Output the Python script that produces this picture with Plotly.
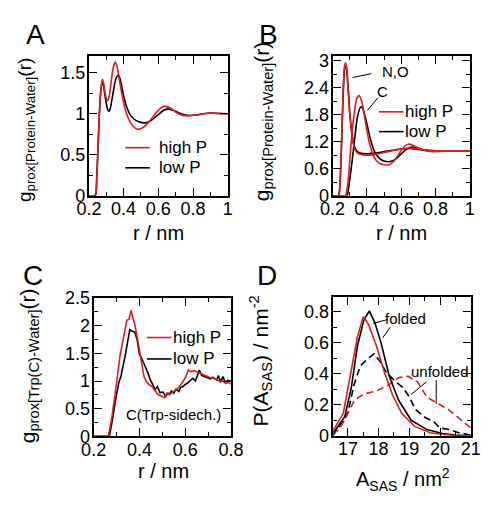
import plotly.graph_objects as go

# ---------------- data ----------------
# Panel A: proximal RDF protein-water
a_r_high = [0.2, 0.23, 0.24, 0.245, 0.25, 0.255, 0.26, 0.265, 0.27, 0.278, 0.285, 0.29, 0.30, 0.31, 0.32, 0.335, 0.345,
            0.353, 0.362, 0.37, 0.38, 0.39, 0.41, 0.43, 0.45, 0.48, 0.51, 0.55, 0.59, 0.62, 0.64, 0.67, 0.70, 0.74,
            0.78, 0.82, 0.86, 0.90, 0.95, 1.0]
a_g_high = [0, 0, 0.02, 0.2, 0.45, 0.72, 0.98, 1.18, 1.32, 1.42, 1.37, 1.30, 1.19, 1.16, 1.25, 1.50, 1.60,
            1.63, 1.58, 1.48, 1.36, 1.24, 1.05, 0.93, 0.86, 0.81, 0.83, 0.91, 1.02, 1.08, 1.09, 1.07, 1.02, 0.98,
            0.975, 0.985, 1.0, 1.01, 1.0, 1.0]
a_r_low = [0.2, 0.23, 0.24, 0.245, 0.25, 0.255, 0.26, 0.265, 0.27, 0.278, 0.285, 0.29, 0.30, 0.308, 0.316, 0.325, 0.335,
           0.35, 0.36, 0.369, 0.378, 0.385, 0.40, 0.42, 0.44, 0.47, 0.50, 0.53, 0.56, 0.60, 0.63, 0.655, 0.69, 0.72,
           0.77, 0.82, 0.86, 0.90, 1.0]
a_g_low = [0, 0, 0.02, 0.2, 0.45, 0.72, 0.98, 1.18, 1.31, 1.40, 1.34, 1.26, 1.13, 1.05, 1.03, 1.08, 1.2,
           1.38, 1.45, 1.47, 1.44, 1.38, 1.22, 1.07, 0.98, 0.92, 0.895, 0.89, 0.92, 0.99, 1.04, 1.06, 1.04, 1.01,
           0.98, 0.985, 1.0, 1.01, 1.0]

# Panel B: N,O and C atoms
b_r_no_high = [0.2, 0.235, 0.24, 0.245, 0.25, 0.255, 0.26, 0.265, 0.27, 0.276, 0.282, 0.288, 0.295, 0.30, 0.31, 0.32,
               0.33, 0.34, 0.36, 0.40, 0.45, 0.50, 0.55, 0.60, 0.65, 0.70, 0.75, 0.80, 0.90, 1.0]
b_g_no_high = [0, 0, 0.1, 0.4, 0.9, 1.5, 2.1, 2.6, 2.88, 2.96, 2.85, 2.55, 2.15, 1.85, 1.45, 1.18,
               1.04, 0.97, 0.92, 0.90, 0.92, 0.96, 1.0, 1.04, 1.06, 1.04, 1.01, 1.0, 1.0, 1.0]
b_r_no_low = [0.2, 0.235, 0.24, 0.245, 0.25, 0.255, 0.26, 0.265, 0.27, 0.276, 0.282, 0.288, 0.295, 0.30, 0.31, 0.32,
              0.33, 0.34, 0.36, 0.40, 0.45, 0.50, 0.55, 0.60, 0.65, 0.70, 0.75, 0.80, 0.90, 1.0]
b_g_no_low = [0, 0, 0.09, 0.38, 0.86, 1.45, 2.05, 2.55, 2.83, 2.92, 2.82, 2.55, 2.15, 1.86, 1.47, 1.2,
              1.07, 1.0, 0.95, 0.93, 0.95, 0.98, 1.01, 1.04, 1.05, 1.03, 1.01, 1.0, 1.0, 1.0]
b_r_c_high = [0.2, 0.275, 0.28, 0.29, 0.30, 0.31, 0.325, 0.34, 0.355, 0.37, 0.385, 0.40, 0.42, 0.44, 0.47, 0.50, 0.53,
              0.56, 0.59, 0.62, 0.645, 0.67, 0.70, 0.74, 0.78, 0.85, 1.0]
b_g_c_high = [0, 0, 0.05, 0.3, 0.75, 1.25, 1.8, 2.15, 2.23, 2.1, 1.8, 1.45, 1.1, 0.87, 0.73, 0.69, 0.69,
              0.78, 0.95, 1.1, 1.15, 1.12, 1.06, 1.0, 0.98, 0.99, 1.0]
b_r_c_low = [0.2, 0.283, 0.29, 0.30, 0.315, 0.33, 0.345, 0.365, 0.38, 0.40, 0.42, 0.44, 0.47, 0.50, 0.535, 0.57, 0.60,
             0.63, 0.66, 0.69, 0.72, 0.76, 0.80, 0.90, 1.0]
b_g_c_low = [0, 0, 0.08, 0.35, 0.8, 1.3, 1.75, 1.98, 1.9, 1.6, 1.27, 1.02, 0.84, 0.77, 0.76, 0.82, 0.93,
             1.03, 1.08, 1.07, 1.03, 1.0, 0.99, 1.0, 1.0]

# Panel C: Trp side-chain carbon
c_r_high = [0.2, 0.265, 0.28, 0.29, 0.303, 0.315, 0.33, 0.345, 0.355, 0.363, 0.371, 0.379, 0.39, 0.40, 0.41, 0.42, 0.43,
            0.441, 0.455, 0.469, 0.48, 0.496, 0.51, 0.52, 0.531, 0.545, 0.56, 0.572, 0.585, 0.60, 0.614, 0.625, 0.64,
            0.655, 0.67, 0.685, 0.697, 0.71, 0.725, 0.74, 0.752, 0.765, 0.78, 0.79, 0.80]
c_g_high = [0, 0, 0.35, 0.7, 1.05, 1.45, 1.75, 2.1, 2.12, 2.28, 2.15, 2.04, 1.8, 1.57, 1.3, 1.08, 1.0,
            0.94, 0.9, 0.81, 0.76, 0.73, 0.7, 0.78, 0.75, 0.8, 0.85, 0.88, 0.96, 1.05, 1.2, 1.17, 1.19,
            1.16, 1.12, 1.1, 1.08, 1.06, 1.05, 1.02, 0.99, 1.0, 0.96, 0.98, 0.94]
c_r_low = [0.2, 0.269, 0.28, 0.29, 0.30, 0.31, 0.32, 0.338, 0.35, 0.358, 0.368, 0.379, 0.39, 0.40, 0.413, 0.427, 0.437,
           0.448, 0.458, 0.469, 0.478, 0.49, 0.503, 0.515, 0.525, 0.531, 0.54, 0.55, 0.56, 0.572, 0.58, 0.59, 0.60,
           0.61, 0.62, 0.634, 0.645, 0.655, 0.662, 0.672, 0.685, 0.697, 0.71, 0.72, 0.738, 0.745, 0.755, 0.765, 0.775,
           0.785, 0.80]
c_g_low = [0, 0, 0.25, 0.55, 0.75, 0.97, 1.1, 1.46, 1.75, 1.93, 1.9, 1.89, 1.75, 1.49, 1.38, 1.26, 1.15,
           1.02, 0.95, 0.85, 0.9, 0.79, 0.8, 0.72, 0.78, 0.76, 0.82, 0.78, 0.85, 0.81, 0.88, 0.9, 0.94,
           0.96, 1.0, 1.05, 1.0, 1.1, 1.2, 1.1, 1.08, 1.06, 1.04, 1.07, 1.02, 1.1, 0.98, 1.08, 0.97,
           1.01, 1.0]

# Panel D: SASA distributions
d_a_fold_low = [16.5, 16.54, 16.9, 17.11, 17.31, 17.52, 17.7, 17.88, 18.08, 18.34, 18.65, 19.06, 19.57, 20.08, 20.5, 21.0]
d_p_fold_low = [0.0, 0.02, 0.125, 0.31, 0.58, 0.75, 0.806, 0.73, 0.60, 0.39, 0.23, 0.10, 0.04, 0.015, 0.005, 0.0]
d_a_fold_high = [16.5, 16.54, 16.85, 17.11, 17.31, 17.5, 17.67, 17.93, 18.18, 18.44, 18.75, 19.16, 19.67, 20.1, 20.5, 21.0]
d_p_fold_high = [0.0, 0.04, 0.145, 0.415, 0.64, 0.77, 0.72, 0.58, 0.415, 0.27, 0.145, 0.062, 0.02, 0.008, 0.002, 0.0]
d_a_unf_low = [16.5, 16.7, 17.0, 17.2, 17.4, 17.6, 17.85, 18.05, 18.25, 18.5, 18.8, 19.0, 19.2, 19.5, 19.8, 20.0, 20.3, 20.6, 21.0]
d_p_unf_low = [0.0, 0.05, 0.15, 0.33, 0.45, 0.49, 0.53, 0.48, 0.41, 0.36, 0.31, 0.25, 0.17, 0.12, 0.09, 0.05, 0.04, 0.02, 0.005]
d_a_unf_high = [16.5, 16.7, 16.9, 17.21, 17.52, 17.93, 18.34, 18.65, 18.95, 19.26, 19.57, 19.83, 20.3, 20.7, 20.95, 21.0]
d_p_unf_high = [0.01, 0.04, 0.104, 0.23, 0.27, 0.29, 0.33, 0.375, 0.385, 0.35, 0.25, 0.22, 0.166, 0.10, 0.06, 0.05]

RED = "#e41a1c"
BLACK = "black"
FONT = "Liberation Sans, Arial, Helvetica, sans-serif"
W, H = 490, 505


def px(x):
    return x / W


def py(y):
    return 1 - y / H


fig = go.Figure()


def add(x, y, color, n, dash="solid", shape="spline"):
    ax = "" if n == 1 else str(n)
    fig.add_trace(go.Scatter(x=x, y=y, mode="lines", xaxis="x" + ax, yaxis="y" + ax,
                             line=dict(color=color, width=1.6, dash=dash, shape=shape, smoothing=0.6),
                             showlegend=False, hoverinfo="skip"))


# A
add(a_r_low, a_g_low, BLACK, 1)
add(a_r_high, a_g_high, RED, 1)
# B
add(b_r_no_low, b_g_no_low, BLACK, 2)
add(b_r_c_low, b_g_c_low, BLACK, 2)
add(b_r_no_high, b_g_no_high, RED, 2)
add(b_r_c_high, b_g_c_high, RED, 2)
# C
add(c_r_low, c_g_low, BLACK, 3, shape="linear")
add(c_r_high, c_g_high, RED, 3, shape="linear")
# D
add(d_a_unf_low, d_p_unf_low, BLACK, 4, dash="7px,4px", shape="linear")
add(d_a_unf_high, d_p_unf_high, RED, 4, dash="7px,4px", shape="linear")
add(d_a_fold_low, d_p_fold_low, BLACK, 4, shape="linear")
add(d_a_fold_high, d_p_fold_high, RED, 4, shape="linear")


def axis(domain, rng, dtick, mdtick, anchor, tick0, is_x):
    d = dict(domain=domain, range=rng, dtick=dtick, anchor=anchor, tick0=tick0,
             showline=True, linecolor="black", linewidth=2, mirror="allticks",
             ticks="inside", ticklen=8, tickwidth=1.3, tickcolor="black",
             minor=dict(ticks="inside", ticklen=4, tickwidth=1.3, tickcolor="black", dtick=mdtick, showgrid=False),
             showgrid=False, zeroline=False,
             tickfont=dict(family=FONT, size=18, color="black"))
    d["ticklabelstandoff"] = -4 if is_x else -2
    return d


# domains (pixels -> paper)
A_x = [px(71.7), px(218.3)]
A_y = [py(185), py(40)]
B_x = [px(329), px(474)]
B_y = [py(185), py(40)]
C_x = [px(76.7), px(221.7)]
C_y = [py(435.5), py(291.7)]
D_x = [px(329), px(475)]
D_y = [py(435), py(290)]

fig.update_layout(
    width=W, height=H, margin=dict(l=0, r=0, t=0, b=0),
    paper_bgcolor="white", plot_bgcolor="white",
    xaxis=axis(A_x, [0.2, 1.0], 0.2, 0.1, "y", 0.2, True),
    yaxis=axis(A_y, [0, 1.7], 0.5, 0.25, "x", 0, False),
    xaxis2=axis(B_x, [0.2, 1.0], 0.2, 0.1, "y2", 0.2, True),
    yaxis2=axis(B_y, [0, 3.1], 0.6, 0.3, "x2", 0, False),
    xaxis3=axis(C_x, [0.2, 0.8], 0.2, 0.1, "y3", 0.2, True),
    yaxis3=axis(C_y, [0, 2.5], 0.5, 0.25, "x3", 0, False),
    xaxis4=axis(D_x, [16.5, 21.0], 1, 0.5, "y4", 17, True),
    yaxis4=axis(D_y, [0, 0.9], 0.2, 0.1, "x4", 0, False),
)

ann = []


def text(x, y, t, size=17, angle=0, xanchor="center"):
    ann.append(dict(x=px(x), y=py(y), xref="paper", yref="paper", text=t, showarrow=False,
                    textangle=angle, xanchor=xanchor, yanchor="middle",
                    font=dict(family=FONT, size=size, color="black")))


# panel letters
text(15, 17, "A", size=28)
text(261, 17, "B", size=28)
text(13, 268, "C", size=28)
text(260, 268, "D", size=28)

# x titles
text(145.7, 224, "r / nm", size=20)
text(401.7, 224, "r / nm", size=20)
text(150, 472, "r / nm", size=20)
text(403, 481, "A<sub>SAS</sub> / nm<sup>2</sup>", size=20)

# y titles
text(6, 117, "g<sub>prox[Protein-Water]</sub>(r)", size=19, angle=-90)
text(255, 108, "g<sub>prox[Protein-Water]</sub>(r)", size=21, angle=-90)
text(8, 362, "g<sub>prox[Trp(C)-Water]</sub>(r)", size=21, angle=-90)
text(253, 357, "P(A<sub>SAS</sub>) / nm<sup>-2</sup>", size=21, angle=-90)

# legends (A, B, C)
shapes = []


def legend(x0, yh, yl, tx):
    shapes.append(dict(type="line", xref="paper", yref="paper", x0=px(x0), x1=px(x0 + 26), y0=py(yh), y1=py(yh),
                       line=dict(color=RED, width=1.6)))
    shapes.append(dict(type="line", xref="paper", yref="paper", x0=px(x0), x1=px(x0 + 26), y0=py(yl), y1=py(yl),
                       line=dict(color=BLACK, width=1.6)))
    text(tx, yh, "high P", size=17, xanchor="left")
    text(tx, yl, "low P", size=17, xanchor="left")


legend(110, 135, 156, 144)
legend(378, 97.7, 118.3, 403)
legend(133, 332.7, 355, 158)


def seg(x0, y0, x1, y1):
    shapes.append(dict(type="line", xref="paper", yref="paper", x0=px(x0), y0=py(y0), x1=px(x1), y1=py(y1),
                       line=dict(color="black", width=1)))


# B labels
text(395, 56, "N,O", size=15)
seg(370, 58, 350, 62)
text(382, 77, "C", size=15)
seg(377, 83, 366, 96)

# C label
text(161, 413, "C(Trp-sidech.)", size=15)

# D labels
text(406, 313, "folded", size=15)
seg(387, 314, 372, 318)
seg(390, 322, 382, 333)
text(442, 368, "unfolded", size=15)
seg(428, 379, 412, 392)
seg(438.5, 377, 438.5, 402)

fig.update_layout(annotations=ann, shapes=shapes)
fig.write_html("out.html")
